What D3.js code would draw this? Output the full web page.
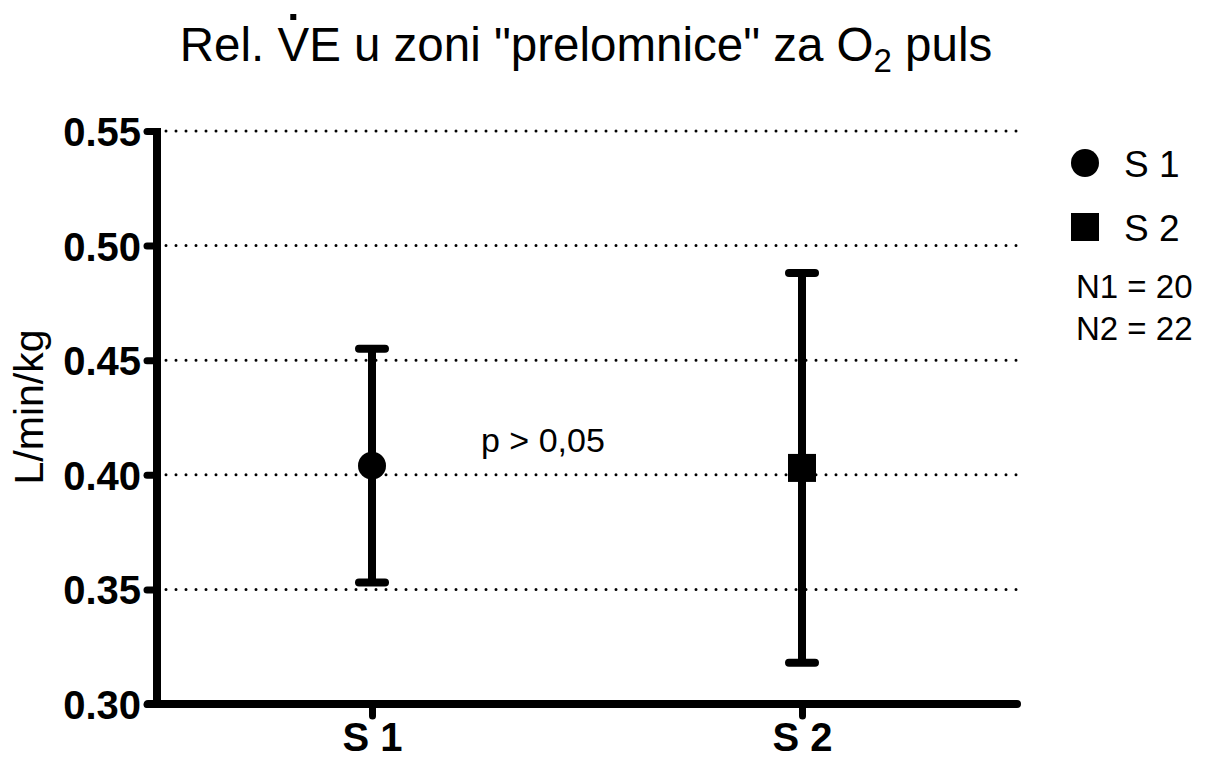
<!DOCTYPE html>
<html lang="en">
<head>
  <meta charset="UTF-8">
  <title>rel-ve</title>
  <script type="text/javascript" src="https://cdn.jsdelivr.net/npm/d3@7"></script>
  <style>
    body { margin: 0; background: #fff; }
    text { font-family: "Liberation Sans", Arial, sans-serif; fill: #000; }
  </style>
</head>
<body>
<div id="chart"></div>
<script type="text/javascript">
    // data
    let groups = ["S 1", "S 2"];
    let means = [0.404, 0.403];
    let upper = [0.455, 0.488];
    let lower = [0.353, 0.318];
    let y_ticks = [0.30, 0.35, 0.40, 0.45, 0.50, 0.55];
    let n_labels = ["N1 = 20", "N2 = 22"];

    let width = 1207, height = 758;
    let svg = d3.select("#chart").append("svg")
        .attr("width", width).attr("height", height);

    let x = d3.scalePoint().domain(groups).range([157, 1017]).padding(0.5);
    let y = d3.scaleLinear().domain([0.30, 0.55]).range([704, 131]);

    // dotted grid
    svg.append("g").selectAll("line").data(y_ticks.filter(d => d > 0.3)).enter()
        .append("line")
        .attr("x1", 166).attr("x2", 1018)
        .attr("y1", d => y(d)).attr("y2", d => y(d))
        .attr("stroke", "#000").attr("stroke-width", 3)
        .attr("stroke-linecap", "round").attr("stroke-dasharray", "0,10");

    // y axis
    let y_axis = svg.append("g").attr("transform", "translate(157,0)")
        .call(d3.axisLeft(y).tickValues(y_ticks).tickFormat(d3.format(".2f")).tickSize(10).tickPadding(6));
    y_axis.select(".domain").remove();
    y_axis.selectAll(".tick line").attr("stroke-width", 7).attr("stroke-linecap", "round");
    y_axis.selectAll(".tick text").attr("font-size", 40).attr("font-weight", "bold")
        .attr("font-family", "Liberation Sans, Arial, sans-serif").attr("dy", "0.36em");
    svg.append("line").attr("x1", 157).attr("x2", 157).attr("y1", y(0.55) - 3).attr("y2", 704)
        .attr("stroke", "#000").attr("stroke-width", 8);

    // x axis
    let x_axis = svg.append("g").attr("transform", "translate(0,704)")
        .call(d3.axisBottom(x).tickSize(12).tickPadding(7));
    x_axis.select(".domain").remove();
    x_axis.selectAll(".tick line").attr("stroke-width", 7).attr("stroke-linecap", "round");
    x_axis.selectAll(".tick text").attr("font-size", 40).attr("font-weight", "bold")
        .attr("font-family", "Liberation Sans, Arial, sans-serif");
    svg.append("line").attr("x1", 148).attr("x2", 1017).attr("y1", 704).attr("y2", 704)
        .attr("stroke", "#000").attr("stroke-width", 8).attr("stroke-linecap", "round");

    // error bars
    let bars = svg.append("g").selectAll("g").data(groups).enter().append("g");
    bars.append("line")
        .attr("x1", d => x(d)).attr("x2", d => x(d))
        .attr("y1", (d, i) => y(upper[i])).attr("y2", (d, i) => y(lower[i]))
        .attr("stroke", "#000").attr("stroke-width", 8);
    [upper, lower].forEach(function (arr) {
        bars.append("line")
            .attr("x1", d => x(d) - 13).attr("x2", d => x(d) + 13)
            .attr("y1", (d, i) => y(arr[i])).attr("y2", (d, i) => y(arr[i]))
            .attr("stroke", "#000").attr("stroke-width", 8).attr("stroke-linecap", "round");
    });

    // markers
    svg.append("circle").attr("cx", x(groups[0])).attr("cy", y(means[0])).attr("r", 14);
    svg.append("rect").attr("x", x(groups[1]) - 14).attr("y", y(means[1]) - 14)
        .attr("width", 28).attr("height", 28);

    svg.append("text").attr("x", 481).attr("y", 452).attr("font-size", 34).text("p > 0,05");

    // y label
    svg.append("text").attr("transform", "translate(43,407) rotate(-90)")
        .attr("text-anchor", "middle").attr("font-size", 41).text("L/min/kg");

    // title
    let title = svg.append("text").attr("x", 586).attr("y", 61)
        .attr("text-anchor", "middle").attr("font-size", 47.5);
    title.append("tspan").text("Rel. ");
    title.append("tspan").text("V");
    title.append("tspan").text("E u zoni \"prelomnice\" za O");
    title.append("tspan").attr("font-size", 33).attr("dy", 11).text("2");
    title.append("tspan").attr("dy", -11).text(" puls");
    let v_box = title.node().getExtentOfChar(5);
    svg.append("rect").attr("x", v_box.x + v_box.width / 2 - 3).attr("y", 14)
        .attr("width", 6).attr("height", 6);

    // legend
    svg.append("circle").attr("cx", 1085).attr("cy", 163).attr("r", 14);
    svg.append("rect").attr("x", 1071).attr("y", 213).attr("width", 28).attr("height", 28);
    svg.append("text").attr("x", 1124).attr("y", 177).attr("font-size", 37).text(groups[0]);
    svg.append("text").attr("x", 1124).attr("y", 241).attr("font-size", 37).text(groups[1]);
    svg.selectAll(".nlab").data(n_labels).enter().append("text")
        .attr("x", 1076).attr("y", (d, i) => 298 + i * 42).attr("font-size", 33).text(d => d);
</script>
</body>
</html>
